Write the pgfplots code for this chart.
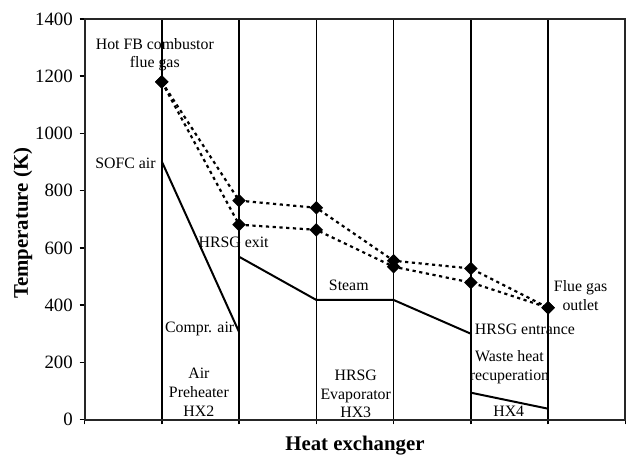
\documentclass[border=0pt]{standalone}
\usepackage{fontspec}
\setmainfont{Liberation Serif}
\usepackage{pgfplots}
\pgfplotsset{compat=1.18}
\begin{document}
\begin{tikzpicture}[annot/.style={font=\fontsize{8}{9.5}\selectfont, align=center, inner sep=0pt}]
\begin{axis}[
  scale only axis, width=272bp, height=201.5bp,
  xmin=0, xmax=7, ymin=0, ymax=1400,
  xtick={0,...,7}, xticklabels={},
  ytick={0,200,...,1400},
  tick align=outside, tick pos=left,
  major tick length=2.4bp,
  xmajorgrids, major grid style={black, line width=0.8bp},
  axis line style={line width=1bp, black!85},
  every tick/.style={black, line width=0.8bp},
  tick label style={font=\fontsize{9.5}{11}\selectfont},
  /pgf/number format/assume math mode=true,
  /pgf/number format/1000 sep={},
  xlabel={Heat exchanger}, ylabel={Temperature (K)},
  label style={font=\fontsize{10.5}{12}\selectfont\bfseries, inner sep=0pt, text depth=0pt},
  xlabel style={at={(axis description cs:0.5,0)}, anchor=base, yshift=-15.3bp},
  ylabel style={at={(axis description cs:0,0.49)}, anchor=base, yshift=28.5bp},
  clip=false,
]
% flue gas, two cases
\addplot[black, line width=1.1bp, dash pattern=on 1.6bp off 1.8bp,
  mark=square*, mark size=1.85bp, mark options={solid, rotate=45}]
  coordinates {(1,1180)(2,765)(3,740)(4,555)(5,528)(6,391)};
\addplot[black, line width=1.1bp, dash pattern=on 1.6bp off 1.8bp,
  mark=square*, mark size=1.85bp, mark options={solid, rotate=45}]
  coordinates {(1,1180)(2,681)(3,663)(4,534)(5,479)(6,391)};
% cold streams
\addplot[black, line width=1bp] coordinates {(1,902)(2,306)};
\addplot[black, line width=1bp] coordinates {(2,569)(3,418)(4,418)(5,300)};
\addplot[black, line width=1bp] coordinates {(5,94)(6,38)};

\node[annot] at (axis cs:0.91,1275) {Hot FB combustor\\flue gas};
\node[annot] at (axis cs:0.53,896) {SOFC air};
\node[annot] at (axis cs:1.93,618) {HRSG exit};
\node[annot] at (axis cs:1.49,316) {Compr. air};
\node[annot] at (axis cs:1.48,96) {Air\\Preheater\\HX2};
\node[annot] at (axis cs:3.42,470) {Steam};
\node[annot] at (axis cs:3.51,90) {HRSG\\Evaporator\\HX3};
\node[annot] at (axis cs:5.70,314) {HRSG entrance};
\node[annot] at (axis cs:5.50,184) {Waste heat\\recuperation};
\node[annot] at (axis cs:5.49,28) {HX4};
\node[annot] at (axis cs:6.42,434) {Flue gas\\outlet};
\end{axis}
\path (current axis.south west) ++(-42.5bp,-17.5bp);
\path (current axis.north east) ++(1.5bp,9.5bp);
\end{tikzpicture}
\end{document}
